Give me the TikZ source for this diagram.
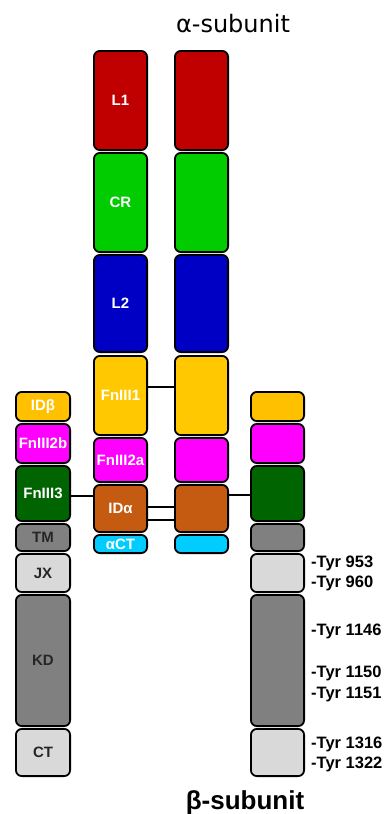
\documentclass[tikz,border=0pt]{standalone}
\usepackage{fontspec}
\setmainfont{Liberation Sans}
\newfontfamily\dejavu{DejaVu Sans}
\definecolor{cL1}{HTML}{C00000}
\definecolor{cCR}{HTML}{00CC00}
\definecolor{cL2}{HTML}{0000C4}
\definecolor{cFn1}{HTML}{FFC800}
\definecolor{cMag}{HTML}{FF00FF}
\definecolor{cIDa}{HTML}{C55A11}
\definecolor{cCT}{HTML}{00CCFF}
\definecolor{cIDb}{HTML}{FFC000}
\definecolor{cFn3}{HTML}{006400}
\definecolor{cGray}{HTML}{808080}
\definecolor{cLGray}{HTML}{D9D9D9}
\tikzset{
  dom/.style={draw=black, line width=1.8pt, rounded corners=6pt, inner sep=0pt,
    font=\bfseries\fontsize{15}{15}\selectfont, text=white},
  gdom/.style={dom, text=black!85},
  conn/.style={draw=black, line width=1.8pt},
  tyr/.style={anchor=base west, inner sep=0pt, font=\bfseries\fontsize{16.5}{16.5}\selectfont},
  title/.style={inner sep=0pt}
}
\newcommand\dombox[8]{%
  \node[#8, fill=#6, minimum width={((#4)-(#2)-1.8)*1pt}, minimum height={((#5)-(#3)-1.8)*1pt}]
    (#1) at ({((#2)+(#4))/2},{((#3)+(#5))/2}) {#7};}
\begin{document}
\begin{tikzpicture}[x=1pt,y=-1pt]
\useasboundingbox[fill=white] (0,0) rectangle (388,814);
% alpha column A
\dombox{L1a}{93}{50}{148}{151}{cL1}{L1}{dom}
\dombox{CRa}{93}{152}{148}{253}{cCR}{CR}{dom}
\dombox{L2a}{93}{254}{148}{353}{cL2}{L2}{dom}
\dombox{Fn1a}{93}{355}{148}{436}{cFn1}{FnIII1}{dom}
\dombox{Fn2a}{93}{437}{148}{483}{cMag}{FnIII2a}{dom}
\dombox{IDaa}{93}{484}{148}{533}{cIDa}{IDα}{dom}
\dombox{aCTa}{93}{534}{148}{554}{cCT}{αCT}{dom}
% alpha column B
\dombox{L1b}{174}{50}{229}{151}{cL1}{}{dom}
\dombox{CRb}{174}{152}{229}{253}{cCR}{}{dom}
\dombox{L2b}{174}{254}{229}{353}{cL2}{}{dom}
\dombox{Fn1b}{174}{355}{229}{436}{cFn1}{}{dom}
\dombox{Fn2b}{174}{437}{229}{483}{cMag}{}{dom}
\dombox{IDab}{174}{484}{229}{533}{cIDa}{}{dom}
\dombox{aCTb}{174}{534}{229}{554}{cCT}{}{dom}
% beta column left
\dombox{IDbl}{15}{391}{71}{422}{cIDb}{IDβ}{dom}
\dombox{Fn2bl}{15}{423}{71}{464}{cMag}{FnIII2b}{dom}
\dombox{Fn3l}{15}{465}{71}{522}{cFn3}{FnIII3}{dom}
\dombox{TMl}{15}{523}{71}{552}{cGray}{TM}{gdom}
\dombox{JXl}{15}{553}{71}{593}{cLGray}{JX}{gdom}
\dombox{KDl}{15}{594}{71}{727}{cGray}{KD}{gdom}
\dombox{CTl}{15}{728}{71}{777}{cLGray}{CT}{gdom}
% beta column right
\dombox{IDbr}{250}{391}{305}{422}{cIDb}{}{dom}
\dombox{Fn2br}{250}{423}{305}{464}{cMag}{}{dom}
\dombox{Fn3r}{250}{465}{305}{522}{cFn3}{}{dom}
\dombox{TMr}{250}{523}{305}{552}{cGray}{}{gdom}
\dombox{JXr}{250}{553}{305}{593}{cLGray}{}{gdom}
\dombox{KDr}{250}{594}{305}{727}{cGray}{}{gdom}
\dombox{CTr}{250}{728}{305}{777}{cLGray}{}{gdom}
% connectors
\draw[conn] (Fn1a.east |- 0,387) -- (Fn1b.west |- 0,387);
\draw[conn] (IDaa.east |- 0,507) -- (IDab.west |- 0,507);
\draw[conn] (IDaa.east |- 0,520) -- (IDab.west |- 0,520);
\draw[conn] (Fn3l.east |- 0,496) -- (IDaa.west |- 0,496);
\draw[conn] (IDab.east |- 0,495) -- (Fn3r.west |- 0,495);
% titles
\node[title, font=\dejavu\fontsize{24}{24}\selectfont] (alpha) at (233,24) {α-subunit};
\node[title, font=\bfseries\fontsize{26}{26}\selectfont] (beta) at (245,803) {β-subunit};
% tyrosine labels
\node[tyr] (t953) at (311,567) {-Tyr 953};
\node[tyr] (t960) at (311,587.5) {-Tyr 960};
\node[tyr] (t1146) at (311,635.5) {-Tyr 1146};
\node[tyr] (t1150) at (311,677.5) {-Tyr 1150};
\node[tyr] (t1151) at (311,698.5) {-Tyr 1151};
\node[tyr] (t1316) at (311,748.5) {-Tyr 1316};
\node[tyr] (t1322) at (311,768.5) {-Tyr 1322};
\end{tikzpicture}
\end{document}
